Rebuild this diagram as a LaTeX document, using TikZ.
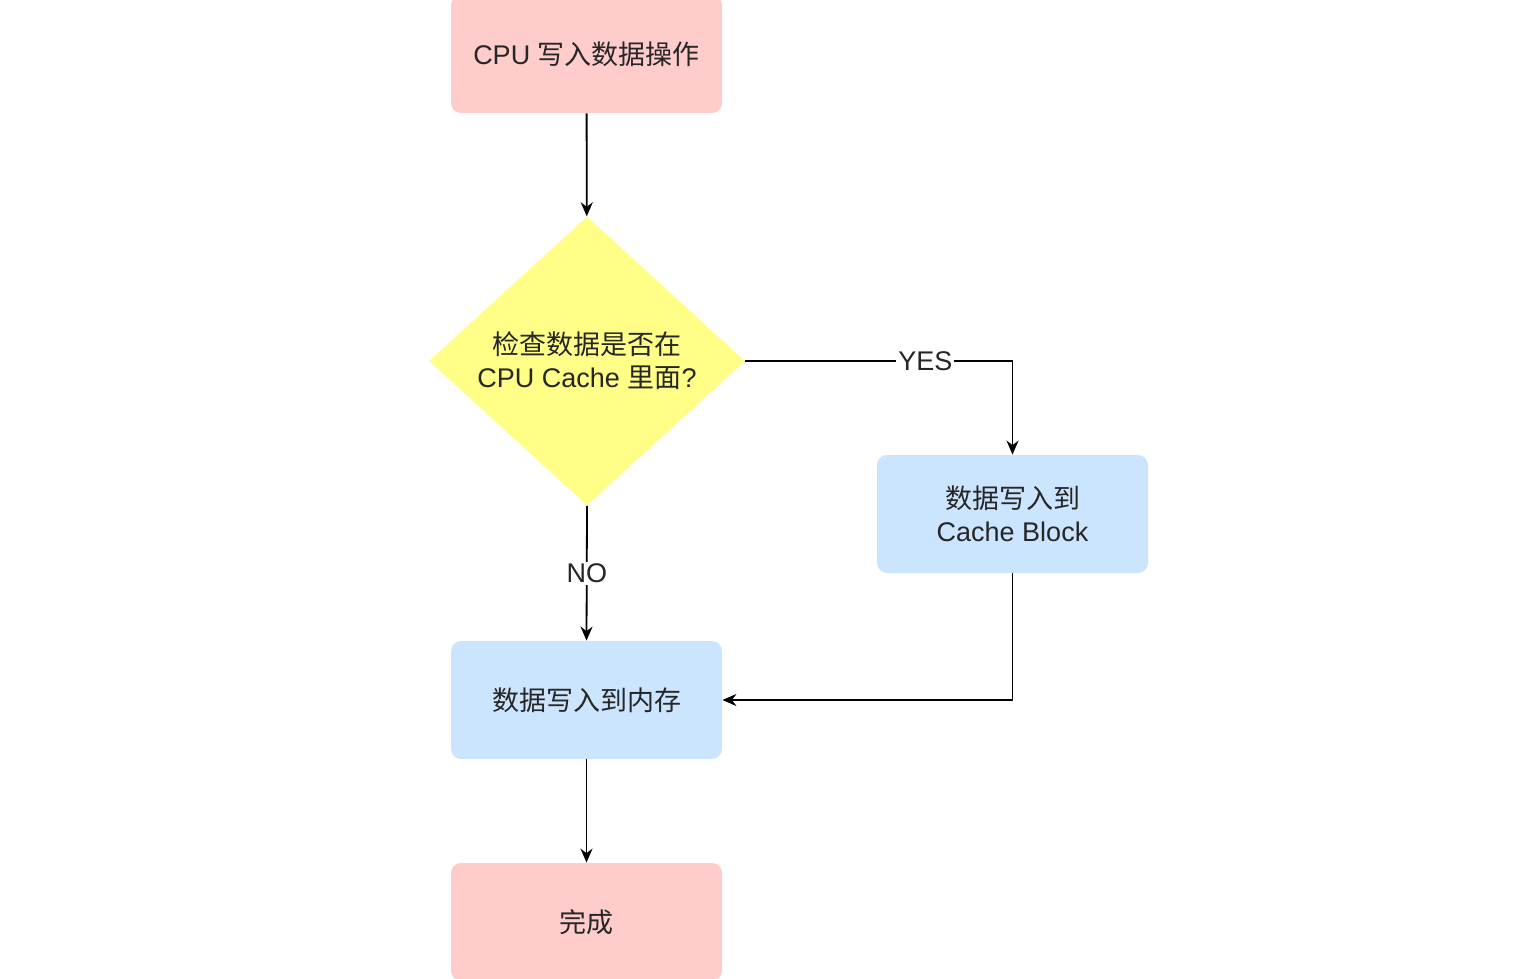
\documentclass[tikz,border=0pt]{standalone}
\usepackage{fontspec}
\setmainfont{Liberation Sans}
\newfontfamily\cjk{Noto Sans CJK SC}
\usepackage{tikz}
\usetikzlibrary{shapes.geometric,arrows.meta}

\definecolor{boxpink}{HTML}{FFCCCC}
\definecolor{boxblue}{HTML}{CCE5FF}
\definecolor{boxyellow}{HTML}{FFFF88}

\begin{document}
\begin{tikzpicture}[x=0.5pt,y=-0.5pt,
  every node/.style={font=\fontsize{13.5}{16.5}\selectfont,text=black!85},
  stepbox/.style={rounded corners=5pt,minimum width=135.5pt,minimum height=59pt,align=center,inner sep=0pt},
  endbox/.style={stepbox,fill=boxpink},
  workbox/.style={stepbox,fill=boxblue},
  checkbox/.style={diamond,fill=boxyellow,minimum width=158pt,minimum height=144.5pt,inner sep=0pt,align=center},
  arr/.style={draw=black,line width=0.9pt,-{Stealth[length=7pt,width=6pt]}},
  lbl/.style={fill=white,inner sep=1pt}]
\useasboundingbox (0,0) rectangle (1514,979);
\node[endbox] (start) at (586.5,54) {CPU {\cjk 写入数据操作}};
\node[checkbox] (check) at (587,361) {{\cjk 检查数据是否在}\\CPU Cache {\cjk 里面}?};
\node[workbox] (cache) at (1012.5,514) {{\cjk 数据写入到}\\Cache Block};
\node[workbox] (mem) at (586.5,700) {{\cjk 数据写入到内存}};
\node[endbox] (done) at (586.5,922) {{\cjk 完成}};
\draw[arr] (start) -- (check);
\draw[arr] (check.east) -| node[lbl,pos=0.337] {YES} (cache.north);
\draw[arr] (check.south) -- node[lbl] {NO} (mem.north);
\draw[arr] (cache.south) |- (mem.east);
\draw[arr] (mem) -- (done);
\end{tikzpicture}
\end{document}
